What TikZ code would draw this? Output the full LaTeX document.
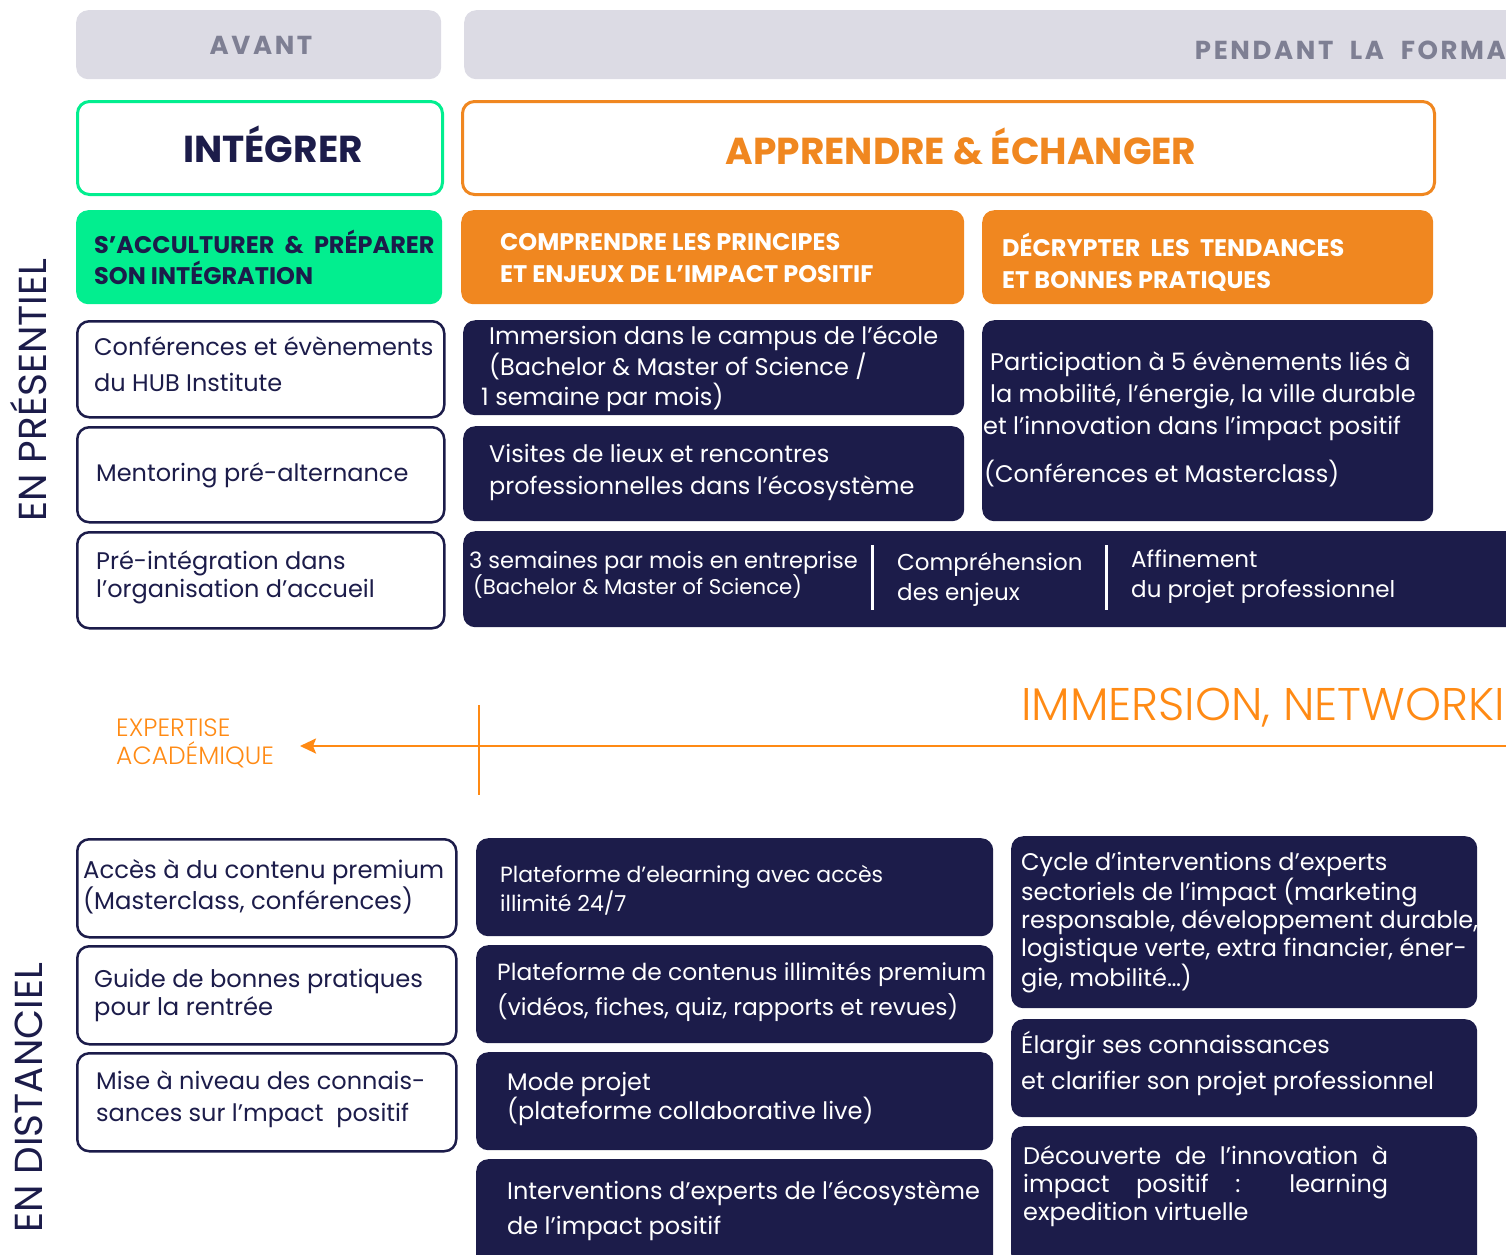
\documentclass[tikz,border=0pt]{standalone}
\usepackage{fontspec}
\setmainfont{Poppins}
\newfontfamily\plight{Poppins Light}
\usetikzlibrary{arrows.meta}
\definecolor{navy}{RGB}{28,28,74}
\definecolor{mint}{RGB}{2,238,143}
\definecolor{orng}{RGB}{240,135,32}
\definecolor{orline}{RGB}{255,138,20}
\definecolor{greyfill}{RGB}{220,219,228}
\definecolor{greytxt}{RGB}{126,127,147}
\tikzset{
  box/.style={anchor=north west, rounded corners=12pt, inner sep=0pt},
  greybox/.style={box, fill=greyfill},
  whitebox/.style={box, draw=navy, line width=2.5pt, fill=white},
  navybox/.style={box, fill=navy},
  mintbox/.style={box, fill=mint},
  orbox/.style={box, fill=orng},
  txt/.style={anchor=west, align=left, inner sep=0pt, font=\fontsize{24}{32}\selectfont},
  wtxt/.style={txt, text=white},
  ntxt/.style={txt, text=navy},
  head/.style={anchor=west, align=left, inner sep=0pt, font=\bfseries\fontsize{24}{31}\selectfont},
  vlab/.style={rotate=90, inner sep=0pt, text=navy, font=\fontsize{39}{39}\selectfont},
  grey/.style={inner sep=0pt, text=greytxt, font=\bfseries\fontsize{26}{26}\selectfont\addfontfeatures{LetterSpace=10}},
}
\begin{document}
\begin{tikzpicture}[x=1pt,y=-1pt]
\useasboundingbox (0,0) rectangle (1506,1254);
\clip (0,0) rectangle (1506,1254);
% top grey bars
\node[greybox, minimum width=365pt, minimum height=69pt] (avantbox) at (76,10) {};
\node[greybox, minimum width=1080pt, minimum height=69pt] (pendbox) at (464,10) {};
\node[grey] (avant) at (261,45) {AVANT};
\node[grey, anchor=east] (pendant) at (1506,50) {PENDANT\hspace{8.5pt} LA\hspace{8.5pt} FORMA};
% titles
\node[box, draw=mint, line width=3pt, fill=white, minimum width=365pt, minimum height=93pt] (integbox) at (76,100) {};
\node[box, draw=orng, line width=3pt, fill=white, minimum width=972pt, minimum height=93pt] (apprbox) at (461,100) {};
\node[text=navy, font=\bfseries\fontsize{37.5}{37.5}\selectfont] (integ) at (273,144) {INTÉGRER};
\node[text=orng, font=\bfseries\fontsize{37.5}{37.5}\selectfont] (appr) at (961,146) {APPRENDRE \& ÉCHANGER};
% sub headers
\node[mintbox, minimum width=366pt, minimum height=94pt] (h1box) at (76,210) {};
\node[orbox, minimum width=503pt, minimum height=94pt] (h2box) at (461,210) {};
\node[orbox, minimum width=451pt, minimum height=94pt] (h3box) at (982,210) {};
\node[head, text=navy] (h1) at (94,257) {S’ACCULTURER \ \& \ PRÉPARER\\SON INTÉGRATION};
\node[head, text=white, font=\bfseries\fontsize{24}{32}\selectfont] (h2) at (500,258) {COMPRENDRE LES PRINCIPES\\ET ENJEUX DE L’IMPACT POSITIF};
\node[head, text=white, font=\bfseries\fontsize{24}{32}\selectfont] (h3) at (1002,262) {DÉCRYPTER \ LES \ TENDANCES\\ET BONNES PRATIQUES};
% en presentiel rows
\node[whitebox, minimum width=367pt, minimum height=96pt] (p1box) at (76,320) {};
\node[whitebox, minimum width=367pt, minimum height=95pt] (p2box) at (76,426) {};
\node[whitebox, minimum width=367pt, minimum height=96pt] (p3box) at (76,531) {};
\node[ntxt, font=\fontsize{24}{36}\selectfont] (p1) at (94,364.5) {Conférences et évènements\\du HUB Institute};
\node[ntxt] (p2) at (96,475.5) {Mentoring pré-alternance};
\node[ntxt, font=\fontsize{24}{28}\selectfont] (p3) at (96,577.5) {Pré-intégration dans\\l’organisation d’accueil};
\node[navybox, minimum width=501pt, minimum height=95pt] (c1box) at (463,320) {};
\node[navybox, minimum width=501pt, minimum height=95pt] (c2box) at (463,426) {};
\node[navybox, minimum width=451pt, minimum height=201pt] (d1box) at (982,320) {};
\node[navybox, minimum width=1080pt, minimum height=96pt] (barbox) at (463,531) {};
\node[wtxt, font=\fontsize{24}{30.5}\selectfont] (c1) at (481,369) {\hspace{8pt}Immersion dans le campus de l’école\\\hspace{8pt}(Bachelor \& Master of Science /\\1 semaine par mois)};
\node[wtxt] (c2) at (489,472.5) {Visites de lieux et rencontres\\professionnelles dans l’écosystème};
\node[wtxt] (d1) at (983,396) {\hspace{7pt}Participation à 5 évènements liés à\\\hspace{7pt}la mobilité, l’énergie, la ville durable\\et l’innovation dans l’impact positif};
\node[wtxt] (d2) at (984,474) {(Conférences et Masterclass)};
\node[wtxt, font=\fontsize{22.5}{23}\selectfont] (e1) at (469,575) {3 semaines par mois en entreprise\\\hspace{4pt}{\fontsize{21.3}{23}\selectfont(Bachelor \& Master of Science)}};
\coordinate (s1a) at (872,545); \coordinate (s1b) at (872,610);
\coordinate (s2a) at (1106,545); \coordinate (s2b) at (1106,610);
\draw[white, line width=3pt] (s1a) -- (s1b);
\draw[white, line width=3pt] (s2a) -- (s2b);
\node[wtxt, font=\fontsize{23}{30}\selectfont] (e2) at (897,579) {Compréhension\\des enjeux};
\node[wtxt, font=\fontsize{23}{30}\selectfont] (e3) at (1131,576.5) {Affinement\\du projet professionnel};
% side labels
\node[vlab] (enpres) at (29,390) {EN PRÉSENTIEL};
\node[vlab] (endist) at (29,1097.5) {EN DISTANCIEL};
% middle axis
\node[anchor=west, inner sep=0pt, text=orline, font=\plight\fontsize{45.8}{45.8}\selectfont] (immer) at (1021,708) {IMMERSION, NETWORKI};
\node[anchor=west, align=left, inner sep=0pt, text=orline, font=\plight\fontsize{25}{28}\selectfont] (expert) at (116,743) {EXPERTISE\\ACADÉMIQUE};
\coordinate (axr) at (1506,746);
\coordinate (axl) at (300,746);
\coordinate (vta) at (479,705);
\coordinate (vtb) at (479,795);
\draw[orline, line width=2.5pt, -{Stealth[length=16pt, width=15pt, inset=3pt]}] (axr) -- (axl);
\draw[orline, line width=2.5pt] (vta) -- (vtb);
% en distanciel
\node[whitebox, minimum width=379pt, minimum height=98pt] (q1box) at (76,838) {};
\node[whitebox, minimum width=379pt, minimum height=98pt] (q2box) at (76,945) {};
\node[whitebox, minimum width=379pt, minimum height=98pt] (q3box) at (76,1052) {};
\node[ntxt, font=\fontsize{24.3}{31}\selectfont] (q1) at (83,886.5) {Accès à du contenu premium\\(Masterclass, conférences)};
\node[ntxt, font=\fontsize{24.2}{28}\selectfont] (q2) at (94,995.5) {Guide de bonnes pratiques\\pour la rentrée};
\node[ntxt, font=\fontsize{24}{32}\selectfont] (q3) at (96,1099) {Mise à niveau des connais-\\sances sur l’mpact \ positif};
\node[navybox, minimum width=517pt, minimum height=98pt] (r1box) at (476,838) {};
\node[navybox, minimum width=517pt, minimum height=98pt] (r2box) at (476,945) {};
\node[navybox, minimum width=517pt, minimum height=98pt] (r3box) at (476,1052) {};
\node[navybox, minimum width=517pt, minimum height=120pt] (r4box) at (476,1159) {};
\node[wtxt, font=\fontsize{22}{29}\selectfont] (r1) at (500,890.5) {Plateforme d’elearning avec accès\\illimité 24/7};
\node[wtxt, font=\fontsize{23.4}{35}\selectfont] (r2) at (497,991.5) {Plateforme de contenus illimités premium\\(vidéos, fiches, quiz, rapports et revues)};
\node[wtxt, font=\fontsize{24}{27}\selectfont] (r3) at (507,1099) {Mode projet\\(plateforme collaborative live)};
\node[wtxt, font=\fontsize{24}{35}\selectfont] (r4) at (507,1210.5) {Interventions d’experts de l’écosystème\\de l’impact positif};
\node[navybox, minimum width=466pt, minimum height=172pt] (t1box) at (1011,836) {};
\node[navybox, minimum width=466pt, minimum height=98pt] (t2box) at (1011,1019) {};
\node[navybox, minimum width=466pt, minimum height=140pt] (t3box) at (1011,1126) {};
\node[wtxt, font=\fontsize{24}{28}\selectfont] (t1) at (1021,922.5) {Cycle d’interventions d’experts\\sectoriels de l’impact (marketing\\responsable, développement durable,\\logistique verte, extra financier, éner-\\gie, mobilité…)};
\node[wtxt, font=\fontsize{24}{36}\selectfont] (t2) at (1021,1063) {Élargir ses connaissances\\et clarifier son projet professionnel};
\node[wtxt, font=\fontsize{24}{28}\selectfont] (t3) at (1023,1186) {\makebox[365pt][s]{Découverte de l’innovation à}\\\makebox[365pt][s]{impact positif : learning}\\expedition virtuelle};
\end{tikzpicture}
\end{document}
